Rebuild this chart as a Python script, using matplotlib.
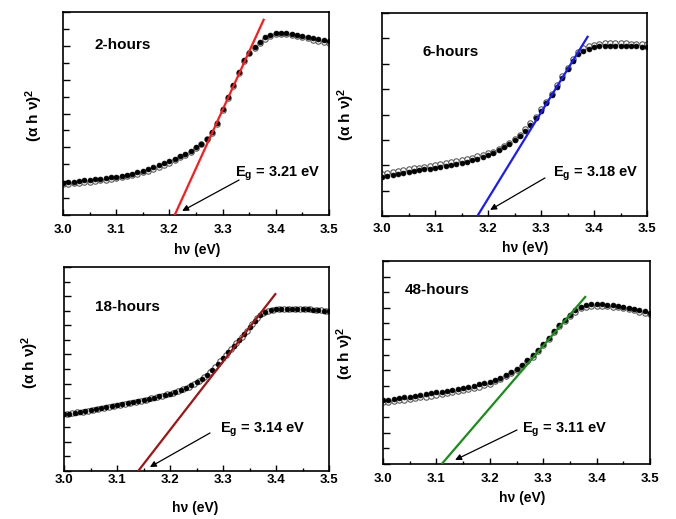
import numpy as np
import matplotlib
matplotlib.use("Agg")
import matplotlib.pyplot as plt
from matplotlib.ticker import MultipleLocator, NullFormatter

plt.rcParams['font.family'] = ['Liberation Sans', 'DejaVu Sans']
plt.rcParams['font.weight'] = 'bold'
plt.rcParams['mathtext.fontset'] = 'custom'
plt.rcParams['mathtext.rm'] = 'Liberation Sans'
plt.rcParams['mathtext.bf'] = 'Liberation Sans:bold'
plt.rcParams['mathtext.it'] = 'Liberation Sans:italic'

# Photon energy grid (eV)
energy = np.round(np.arange(3.00, 3.5001, 0.01), 3)
energy_mid = np.round(np.arange(3.005, 3.5, 0.01), 3)

# Tauc plot data, (alpha h nu)^2 in arbitrary units
h2_filled = [1.92, 1.95, 1.98, 2.01, 2.04, 2.07, 2.10, 2.14, 2.18, 2.22, 2.27, 2.32, 2.38, 2.45, 2.53, 2.62, 2.72, 2.82, 2.94, 3.06, 3.19,
             3.32, 3.46, 3.62, 3.80, 4.00, 4.22, 4.52, 4.90, 5.45, 6.25, 6.95, 7.70, 8.45, 9.15, 9.60, 9.95,
             10.25, 10.50, 10.65, 10.75, 10.78, 10.76, 10.72, 10.66, 10.60, 10.52, 10.45, 10.38, 10.32, 10.26]
h2_open = [1.82, 1.85, 1.88, 1.91, 1.94, 1.97, 2.00, 2.04, 2.08, 2.12, 2.17, 2.22, 2.28, 2.35, 2.43, 2.52, 2.62, 2.72, 2.84, 2.96, 3.09,
           3.27, 3.41, 3.57, 3.75, 3.95, 4.17, 4.47, 4.85, 5.40, 6.20, 6.90, 7.65, 8.40, 9.10, 9.55, 9.90,
           10.17, 10.42, 10.57, 10.67, 10.70, 10.68, 10.64, 10.58, 10.52, 10.44, 10.37, 10.30, 10.24, 10.18]

h6_filled = [1.55, 1.59, 1.63, 1.67, 1.71, 1.75, 1.78, 1.81, 1.84, 1.87, 1.91, 1.94, 1.97, 2.01, 2.05, 2.09, 2.14, 2.19, 2.25, 2.32, 2.40,
             2.49, 2.59, 2.71, 2.84, 2.99, 3.16, 3.36, 3.60, 3.87, 4.15, 4.45, 4.77, 5.10, 5.45, 5.80, 6.12,
             6.38, 6.52, 6.60, 6.65, 6.68, 6.70, 6.71, 6.71, 6.71, 6.70, 6.69, 6.68, 6.67, 6.66]
h6_open = [1.65, 1.69, 1.73, 1.77, 1.81, 1.85, 1.88, 1.91, 1.94, 1.97, 2.01, 2.04, 2.07, 2.11, 2.15, 2.19, 2.24, 2.29, 2.35, 2.42, 2.50,
           2.54, 2.64, 2.76, 2.89, 3.04, 3.21, 3.41, 3.65, 3.92, 4.20, 4.50, 4.82, 5.15, 5.50, 5.85, 6.17,
           6.48, 6.62, 6.70, 6.75, 6.78, 6.80, 6.81, 6.81, 6.81, 6.80, 6.79, 6.78, 6.77, 6.76]

h18_filled = [3.89, 3.94, 4.00, 4.05, 4.11, 4.16, 4.23, 4.30, 4.37, 4.44, 4.51, 4.58, 4.64, 4.71, 4.78, 4.85, 4.94, 5.03, 5.12, 5.21, 5.31,
              5.42, 5.55, 5.70, 5.88, 6.09, 6.32, 6.60, 6.95, 7.35, 7.78, 8.18, 8.58, 8.98, 9.40, 9.85, 10.30,
              10.68, 10.92, 11.04, 11.09, 11.12, 11.14, 11.15, 11.14, 11.12, 11.10, 11.07, 11.04, 11.01, 10.98]
h18_open = [3.91, 3.97, 4.02, 4.08, 4.13, 4.20, 4.26, 4.33, 4.40, 4.47, 4.54, 4.61, 4.67, 4.74, 4.81, 4.89, 4.98, 5.07, 5.16, 5.26,
            5.36, 5.48, 5.62, 5.79, 5.98, 6.20, 6.46, 6.77, 7.15, 7.56, 7.98, 8.38, 8.78, 9.19, 9.62, 10.08, 10.50,
            10.81, 10.99, 11.07, 11.11, 11.13, 11.15, 11.15, 11.13, 11.11, 11.09, 11.06, 11.03, 11.00]

h48_filled = [4.09, 4.13, 4.17, 4.22, 4.26, 4.31, 4.36, 4.41, 4.47, 4.52, 4.58, 4.64, 4.70, 4.76, 4.82, 4.88, 4.95, 5.02, 5.10, 5.18, 5.27,
              5.39, 5.53, 5.69, 5.88, 6.10, 6.36, 6.65, 6.96, 7.29, 7.68, 8.10, 8.52, 8.90, 9.24, 9.54, 9.84,
              10.08, 10.18, 10.22, 10.24, 10.23, 10.21, 10.17, 10.13, 10.07, 10.01, 9.94, 9.86, 9.77, 9.68]
h48_open = [3.94, 3.98, 4.02, 4.07, 4.11, 4.16, 4.21, 4.26, 4.32, 4.37, 4.43, 4.49, 4.55, 4.61, 4.67, 4.73, 4.80, 4.87, 4.95, 5.03, 5.12,
            5.31, 5.45, 5.61, 5.80, 6.02, 6.28, 6.57, 6.88, 7.21, 7.60, 8.02, 8.44, 8.82, 9.16, 9.46, 9.76,
            9.98, 10.08, 10.12, 10.14, 10.13, 10.11, 10.07, 10.03, 9.97, 9.91, 9.84, 9.76, 9.67, 9.58]

sample_labels = ["2-hours", "6-hours", "18-hours", "48-hours"]
band_gaps = [3.21, 3.18, 3.14, 3.11]          # x-intercepts of the linear fits (eV)
fit_end_x = [3.378, 3.389, 3.400, 3.380]      # upper end of each fit line (eV)
fit_end_y = [11.6, 7.1, 12.2, 10.75]          # fit value at that end
fit_colors = ["#ff1a1a", "#1a1aff", "#a01414", "#1a8c1a"]
x_ticks = [3.0, 3.1, 3.2, 3.3, 3.4, 3.5]

filled_sets = [(energy, h2_filled), (energy, h6_filled), (energy, h18_filled), (energy, h48_filled)]
open_sets = [(energy, h2_open), (energy, h6_open), (energy_mid, h18_open), (energy, h48_open)]

fig = plt.figure(figsize=(6.76, 5.19), dpi=100)
W, H = 676.0, 519.0

# axes boxes in pixels: left, right, top, bottom
boxes = [(63, 329, 12, 215), (382, 647, 13, 216), (64, 329, 267, 471), (383, 650, 261, 464)]
y_limits = [12, 8, 14, 13]
y_major = [2, 1, 2, 2]
y_minor = [1, 1, 1, 1]
tick_pads = [6.5, 5.0, 2.0, 6.5]
label_pos = [(0.12, 0.837), (0.151, 0.808), (0.117, 0.804), (0.082, 0.857)]
arrow_tail = [(3.331, 2.07), (3.3075, 1.50), (3.2755, 2.61), (3.251, 2.18)]
arrow_head = [(3.224, 0.24), (3.204, 0.24), (3.162, 0.27), (3.135, 0.26)]
eg_text_pos = [(3.323, 2.25), (3.3226, 1.54), (3.294, 2.61), (3.260, 1.99)]
ylabel_px = [(34, 115), (346, 114), (30, 362), (345, 353)]
xlabel_px = [(197, 250), (525, 248), (195, 508), (522, 498)]

for i in range(4):
    l, r, t, b = boxes[i]
    ax = fig.add_axes([l / W, 1 - b / H, (r - l) / W, (b - t) / H])
    xo, yo = open_sets[i]
    xf, yf = filled_sets[i]
    ax.plot(xo, yo, 'o', ms=3.9, mfc='white', mec='#5a5a5a', mew=0.8, zorder=2)
    ax.plot(xf, yf, 'o', ms=3.5, color='black', mec='black', mew=0.5, zorder=3)

    eg = band_gaps[i]
    ax.plot([eg, fit_end_x[i]], [0, fit_end_y[i]], color=fit_colors[i], lw=1.6, zorder=4,
            solid_capstyle='butt')

    ax.set_xlim(3.0, 3.5)
    ax.set_ylim(0, y_limits[i])
    ax.set_xticks(x_ticks)
    ax.set_xticklabels([f"{v:.1f}" for v in x_ticks])
    ax.xaxis.set_minor_locator(MultipleLocator(0.05))
    ax.yaxis.set_major_locator(MultipleLocator(y_major[i]))
    ax.yaxis.set_minor_locator(MultipleLocator(y_minor[i]))
    ax.yaxis.set_major_formatter(NullFormatter())
    ax.tick_params(axis='both', which='both', direction='in', top=False, right=False, width=1.0)
    ax.tick_params(axis='x', which='major', length=4, labelsize=9.5, pad=tick_pads[i])
    ax.tick_params(axis='x', which='minor', length=2.5)
    ax.tick_params(axis='y', which='major', length=5)
    ax.tick_params(axis='y', which='minor', length=4)
    for lab in ax.get_xticklabels():
        lab.set_fontweight('bold')
    for s in ax.spines.values():
        s.set_linewidth(1.2)

    ax.text(label_pos[i][0], label_pos[i][1], sample_labels[i], transform=ax.transAxes,
            fontsize=11, fontweight='bold', ha='left', va='center')
    ax.annotate('', xy=arrow_head[i], xytext=arrow_tail[i],
                arrowprops=dict(arrowstyle='-|>', color='black', lw=0.9,
                                mutation_scale=9, shrinkA=0, shrinkB=0))
    ax.text(eg_text_pos[i][0], eg_text_pos[i][1], r"$\mathbf{E_g}$" + f" = {eg:.2f} eV",
            fontsize=10.5, fontweight='bold', ha='left', va='baseline')

    fig.text(ylabel_px[i][0] / W, 1 - ylabel_px[i][1] / H, r"(α h ν)$^{2}$", rotation=90,
             fontsize=11, fontweight='bold', ha='center', va='center')
    fig.text(xlabel_px[i][0] / W, 1 - xlabel_px[i][1] / H, "hν (eV)",
             fontsize=10, fontweight='bold', ha='center', va='center')

fig.savefig("out.png", dpi=100)
